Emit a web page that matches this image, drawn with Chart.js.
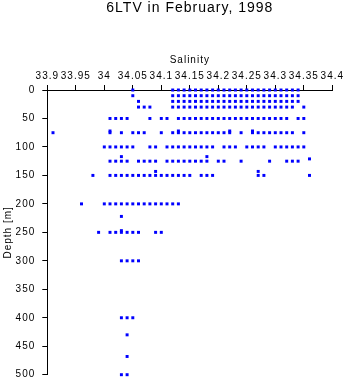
<!DOCTYPE html>
<html>
<head>
<meta charset="utf-8">
<title>6LTV salinity profile</title>
<script src="https://cdn.jsdelivr.net/npm/chart.js@4"></script>
<style>
  html, body { margin: 0; padding: 0; background: #fff; }
  #wrap { width: 346px; height: 384px; }
</style>
</head>
<body>
<div id="wrap"><canvas id="profileChart"></canvas></div>
<script>
// sampling depths (m) and the salinities measured at each one
const depthLevels = [0, 10, 20, 30, 50, 72, 75, 100, 117, 121, 125, 143, 150, 200, 222, 247, 250, 300, 400, 430, 468, 500];

const salinityAtDepth = [
  [34.05, 34.12, 34.13, 34.14, 34.15, 34.16, 34.17, 34.18, 34.19, 34.20, 34.21, 34.22, 34.23, 34.24, 34.25, 34.26, 34.27, 34.28, 34.29, 34.30, 34.31, 34.32, 34.33, 34.34],
  [34.05, 34.12, 34.13, 34.14, 34.15, 34.16, 34.17, 34.18, 34.19, 34.20, 34.21, 34.22, 34.23, 34.24, 34.25, 34.26, 34.27, 34.28, 34.29, 34.30, 34.31, 34.32, 34.33, 34.34],
  [34.06, 34.12, 34.13, 34.14, 34.15, 34.16, 34.17, 34.18, 34.19, 34.20, 34.21, 34.22, 34.23, 34.24, 34.25, 34.26, 34.27, 34.28, 34.29, 34.30, 34.31, 34.32, 34.33, 34.34],
  [34.06, 34.07, 34.08, 34.12, 34.13, 34.14, 34.15, 34.16, 34.17, 34.18, 34.19, 34.20, 34.21, 34.22, 34.23, 34.24, 34.25, 34.26, 34.27, 34.28, 34.29, 34.30, 34.31, 34.32, 34.33, 34.35],
  [34.01, 34.02, 34.03, 34.04, 34.08, 34.10, 34.11, 34.13, 34.14, 34.15, 34.16, 34.17, 34.18, 34.19, 34.20, 34.21, 34.22, 34.23, 34.24, 34.25, 34.26, 34.27, 34.28, 34.29, 34.30, 34.31, 34.32, 34.34, 34.35],
  [34.01, 34.13, 34.22, 34.26],
  [33.91, 34.01, 34.03, 34.05, 34.06, 34.07, 34.10, 34.12, 34.13, 34.14, 34.15, 34.16, 34.17, 34.18, 34.19, 34.20, 34.21, 34.22, 34.24, 34.26, 34.27, 34.28, 34.29, 34.30, 34.31, 34.32, 34.33, 34.35],
  [34.00, 34.01, 34.02, 34.03, 34.04, 34.05, 34.08, 34.09, 34.11, 34.12, 34.13, 34.14, 34.15, 34.16, 34.17, 34.18, 34.19, 34.21, 34.22, 34.23, 34.25, 34.26, 34.27, 34.28, 34.30, 34.31, 34.32, 34.33, 34.34, 34.35],
  [34.03, 34.18],
  [34.36],
  [34.01, 34.02, 34.03, 34.04, 34.06, 34.07, 34.08, 34.09, 34.11, 34.12, 34.13, 34.14, 34.15, 34.16, 34.17, 34.18, 34.20, 34.21, 34.24, 34.29, 34.32, 34.33, 34.34],
  [34.09, 34.27],
  [33.98, 34.01, 34.02, 34.03, 34.04, 34.05, 34.06, 34.07, 34.08, 34.09, 34.10, 34.11, 34.12, 34.13, 34.14, 34.15, 34.17, 34.18, 34.19, 34.27, 34.28, 34.36],
  [33.96, 34.00, 34.01, 34.02, 34.03, 34.04, 34.05, 34.06, 34.07, 34.08, 34.09, 34.10, 34.11, 34.12, 34.13],
  [34.03],
  [34.03],
  [33.99, 34.01, 34.02, 34.03, 34.04, 34.05, 34.06, 34.09, 34.10],
  [34.03, 34.04, 34.05, 34.06],
  [34.03, 34.04, 34.05],
  [34.04],
  [34.04],
  [34.03, 34.04]
];

const salinityTicks = [33.9, 33.95, 34, 34.05, 34.1, 34.15, 34.2, 34.25, 34.3, 34.35, 34.4];
const depthTicks = [0, 50, 100, 150, 200, 250, 300, 350, 400, 450, 500];

let points = [];
depthLevels.forEach((d, i) => {
    salinityAtDepth[i].forEach(s => points.push({ x: s, y: d }));
});

Chart.defaults.font.family = '"Liberation Sans", Arial, sans-serif';
Chart.defaults.color = '#000';

// the old plotting package spaced its glyphs out a little
const spacedText = {
    id: 'spacedText',
    beforeUpdate(chart) { chart.ctx.letterSpacing = '1px'; },
    beforeDraw(chart) { chart.ctx.letterSpacing = '1px'; }
};

new Chart(document.getElementById('profileChart'), {
    type: 'scatter',
    data: {
        datasets: [{
            data: points,
            pointStyle: 'rect',
            pointRadius: 2.1,
            pointHoverRadius: 2.1,
            backgroundColor: '#0000ff',
            borderWidth: 0,
            clip: false
        }]
    },
    options: {
        responsive: true,
        maintainAspectRatio: false,
        animation: false,
        layout: { padding: { top: 0, left: 0, right: 13.7, bottom: 9.3 } },
        plugins: {
            legend: { display: false },
            tooltip: { enabled: false },
            title: {
                display: true,
                text: '6LTV in February, 1998',
                fullSize: false,
                color: '#000',
                font: { size: 14, weight: 'normal' },
                padding: { top: 0, bottom: 23.2 }
            }
        },
        scales: {
            x: {
                type: 'linear',
                position: 'top',
                min: 33.9,
                max: 34.4,
                afterBuildTicks: s => { s.ticks = salinityTicks.map(v => ({ value: v })); },
                // fixed band height; end labels may hang into the page margin
                afterFit: s => { s.height = 50; s.paddingLeft = 0; s.paddingRight = 0; },
                ticks: {
                    font: { size: 10 },
                    padding: 3,
                    maxRotation: 0,
                    autoSkip: false,
                    callback: v => String(v)
                },
                grid: { drawOnChartArea: false, tickLength: 5, color: '#000' },
                border: { color: '#000' },
                title: {
                    display: true,
                    text: 'Salinity',
                    font: { size: 10 },
                    padding: { top: 14, bottom: 0 }
                }
            },
            y: {
                type: 'linear',
                reverse: true,
                min: 0,
                max: 500,
                afterBuildTicks: s => { s.ticks = depthTicks.map(v => ({ value: v })); },
                afterFit: s => { s.width = 47.3; s.paddingTop = 0; s.paddingBottom = 0; },
                ticks: { font: { size: 10 }, padding: 7, autoSkip: false },
                grid: { drawOnChartArea: false, tickLength: 5, color: '#000' },
                border: { color: '#000' },
                title: {
                    display: true,
                    text: 'Depth [m]',
                    font: { size: 10 },
                    padding: { top: 2, bottom: 0 }
                }
            }
        }
    },
    plugins: [spacedText]
});
</script>
</body>
</html>
